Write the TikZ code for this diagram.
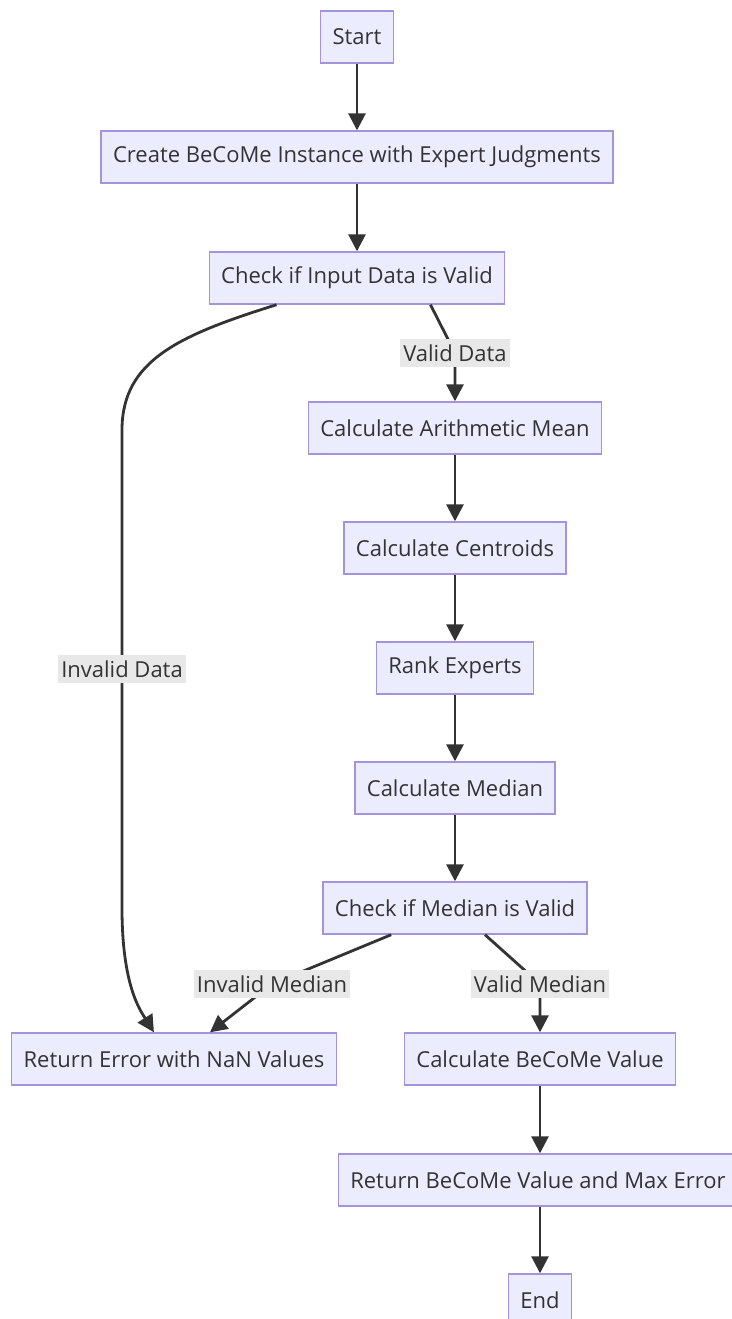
\documentclass[tikz,border=0pt]{standalone}
\usepackage{fontspec}
\setmainfont{Open Sans}
\usetikzlibrary{arrows.meta}
\definecolor{boxfill}{HTML}{ECECFF}
\definecolor{boxline}{HTML}{A693DE}
\definecolor{ink}{HTML}{333333}
\definecolor{labelbg}{HTML}{E8E8E8}
\tikzstyle{stepbox} = [rectangle, text centered, draw=boxline, fill=boxfill, line width=0.7pt, inner xsep=6pt, minimum height=26pt, text=ink, font=\fontsize{11}{13}\selectfont]
\tikzstyle{edgelabel} = [fill=labelbg, inner xsep=1.5pt, inner ysep=3pt, text=ink, font=\fontsize{11}{13}\selectfont]
\tikzstyle{flow} = [draw=ink, line width=1.4pt, -{Triangle[length=8.5pt,width=8.5pt]}]

\begin{document}
\begin{tikzpicture}[x=0.5pt, y=-0.5pt]

    \useasboundingbox (0,0) rectangle (732,1319);

    \node (start) [stepbox] at (357,37) {Start};
    \node (create) [stepbox] at (357,157) {Create BeCoMe Instance with Expert Judgments};
    \node (checkinput) [stepbox] at (357,278) {Check if Input Data is Valid};
    \node (mean) [stepbox] at (455,428) {Calculate Arithmetic Mean};
    \node (centroids) [stepbox] at (455,548) {Calculate Centroids};
    \node (rank) [stepbox] at (455,668) {Rank Experts};
    \node (median) [stepbox] at (455,788) {Calculate Median};
    \node (checkmedian) [stepbox] at (455,908) {Check if Median is Valid};
    \node (error) [stepbox] at (174,1059) {Return Error with NaN Values};
    \node (value) [stepbox] at (540,1059) {Calculate BeCoMe Value};
    \node (result) [stepbox] at (538,1180) {Return BeCoMe Value and Max Error};
    \node (end) [stepbox] at (540,1300) {End};

    \draw [flow] (start) -- (create);
    \draw [flow] (create) -- (checkinput);

    \draw [flow] ([xshift=34pt]checkinput.south west)
        .. controls (180,335) and (122,360) .. (122,430)
        -- node [edgelabel] {Invalid Data} (122,908)
        .. controls (122,985) and (140,1010) .. ([xshift=71.5pt]error.north west);
    \draw [flow] ([xshift=-37.5pt]checkinput.south east)
        -- (455,353) node [edgelabel] {Valid Data} -- (mean);

    \draw [flow] (mean) -- (centroids);
    \draw [flow] (centroids) -- (rank);
    \draw [flow] (rank) -- (median);
    \draw [flow] (median) -- (checkmedian);

    \draw [flow] ([xshift=34.5pt]checkmedian.south west)
        -- (272,984) node [edgelabel] {Invalid Median} -- ([xshift=18pt]error.north);
    \draw [flow] ([xshift=15pt]checkmedian.south)
        -- (540,984) node [edgelabel] {Valid Median} -- (value);

    \draw [flow] (value) -- (value |- result.north);
    \draw [flow] (value |- result.south) -- (end);

\end{tikzpicture}
\end{document}
